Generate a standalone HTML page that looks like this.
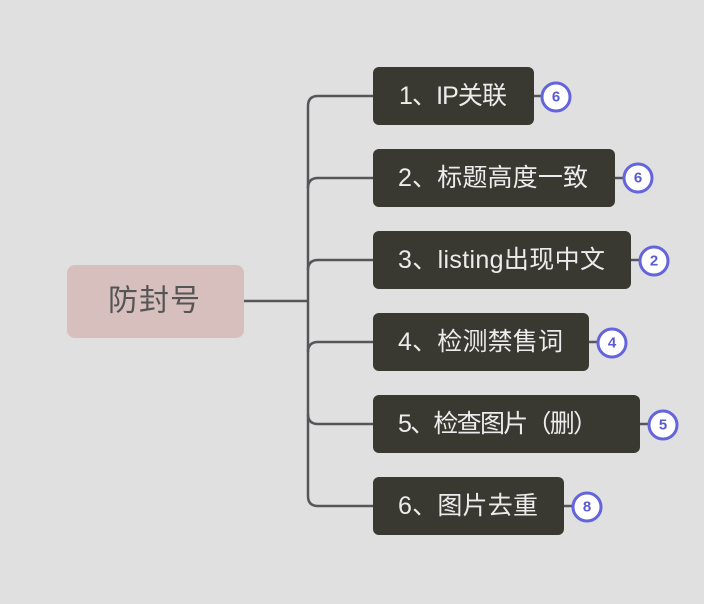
<!DOCTYPE html>
<html><head><meta charset="utf-8"><style>
html,body{margin:0;padding:0;background:#e0e0e0;}
svg{display:block;}
</style></head><body>
<svg width="704" height="604" viewBox="0 0 704 604" xmlns="http://www.w3.org/2000/svg">
<rect width="704" height="604" fill="#e0e0e0"/>
<g fill="none" stroke="#56565a" stroke-width="2.5">
<line x1="244" y1="301" x2="308" y2="301"/>
<path d="M373 96 H318 Q308 96 308 106 V496 Q308 506 318 506 H373"/>
<path d="M373 178 H318 Q308 178 308 188"/>
<path d="M373 260 H318 Q308 260 308 270"/>
<path d="M373 342 H318 Q308 342 308 352"/>
<path d="M373 424 H318 Q308 424 308 414"/>
<line x1="534" y1="96" x2="542" y2="96"/>
<line x1="615" y1="178" x2="624" y2="178"/>
<line x1="631" y1="260" x2="640" y2="260"/>
<line x1="589" y1="342" x2="598" y2="342"/>
<line x1="640" y1="424" x2="649" y2="424"/>
<line x1="564" y1="506" x2="573" y2="506"/>
</g>
<rect x="67" y="265" width="177" height="73" rx="8" fill="#d6bfbd"/>
<text x="154" y="301" font-family="Liberation Sans, Noto Sans CJK SC, sans-serif" font-size="30" fill="#555" text-anchor="middle" dominant-baseline="central" textLength="92">防封号</text>
<g fill="#393932">
<rect x="373" y="67" width="161" height="58" rx="6"/>
<rect x="373" y="149" width="242" height="58" rx="6"/>
<rect x="373" y="231" width="258" height="58" rx="6"/>
<rect x="373" y="313" width="216" height="58" rx="6"/>
<rect x="373" y="395" width="267" height="58" rx="6"/>
<rect x="373" y="477" width="191" height="58" rx="6"/>
</g>
<g font-family="Liberation Sans, Noto Sans CJK SC, sans-serif" font-size="25" fill="#ececec" dominant-baseline="central">
<text x="399" y="96" textLength="108">1、IP关联</text>
<text x="398" y="178" textLength="190">2、标题高度一致</text>
<text x="398" y="260" textLength="207">3、listing出现中文</text>
<text x="398" y="342" textLength="165">4、检测禁售词</text>
<text x="398" y="424" textLength="200">5、检查图片（删）</text>
<text x="398" y="506" textLength="140">6、图片去重</text>
</g>
<g fill="#ffffff" stroke="#6464dc" stroke-width="3">
<circle cx="556" cy="97" r="14"/>
<circle cx="638" cy="178" r="14"/>
<circle cx="654" cy="261" r="14"/>
<circle cx="612" cy="343" r="14"/>
<circle cx="663" cy="425" r="14"/>
<circle cx="587" cy="507" r="14"/>
</g>
<g font-family="Liberation Sans, sans-serif" font-size="15" font-weight="bold" fill="#5b5bd0" text-anchor="middle" dominant-baseline="central">
<text x="556" y="97">6</text>
<text x="638" y="178">6</text>
<text x="654" y="261">2</text>
<text x="612" y="343">4</text>
<text x="663" y="425">5</text>
<text x="587" y="507">8</text>
</g>
</svg>
</body></html>
